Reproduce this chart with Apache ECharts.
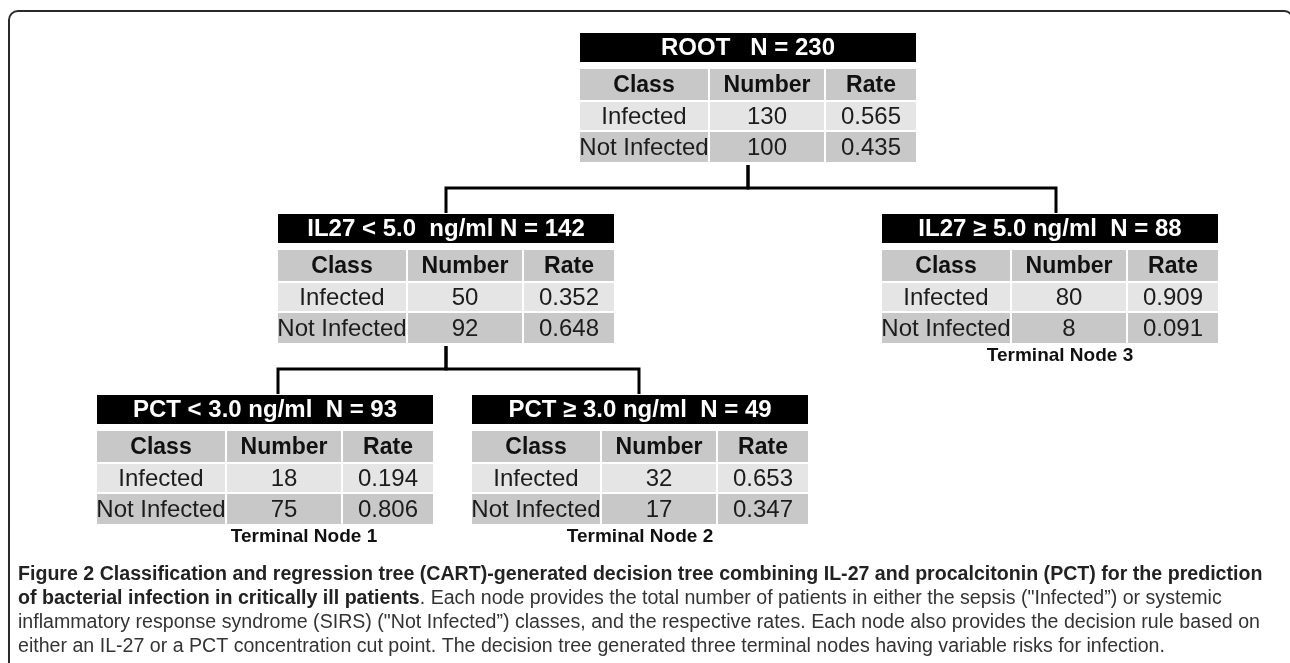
<!DOCTYPE html>
<html><head><meta charset="utf-8">
<script src="https://cdn.jsdelivr.net/npm/echarts@6/dist/echarts.min.js"></script>
<style>html,body{margin:0;padding:0;background:#fff}#c{width:1290px;height:663px}</style>
</head><body><div id="c"></div>
<script>
// ---------------- data ----------------
const nodeTitles = ['ROOT   N = 230', 'IL27 < 5.0  ng/ml N = 142', 'IL27 \u2265 5.0 ng/ml  N = 88', 'PCT < 3.0 ng/ml  N = 93', 'PCT \u2265 3.0 ng/ml  N = 49'];
const columnHeaders = ['Class', 'Number', 'Rate'];
const classNames = ['Infected', 'Not Infected'];
const infectedCounts = [130, 50, 80, 18, 32];
const notInfectedCounts = [100, 92, 8, 75, 17];
const infectedRates = [0.565, 0.352, 0.909, 0.194, 0.653];
const notInfectedRates = [0.435, 0.648, 0.091, 0.806, 0.347];
const parentOf = [-1, 0, 0, 1, 1];
const terminalLabels = ['', '', 'Terminal Node 3', 'Terminal Node 1', 'Terminal Node 2'];
const captionLines = [
  [['b', 'Figure 2 Classification and regression tree (CART)-generated decision tree combining IL-27 and procalcitonin (PCT) for the prediction']],
  [['b', 'of bacterial infection in critically ill patients'], ['r', '. Each node provides the total number of patients in either the sepsis ("Infected\u201d) or systemic']],
  [['r', 'inflammatory response syndrome (SIRS) ("Not Infected\u201d) classes, and the respective rates. Each node also provides the decision rule based on']],
  [['r', 'either an IL-27 or a PCT concentration cut point. The decision tree generated three terminal nodes having variable risks for infection.']]
];

// ---------------- layout ----------------
const nodeX = [580, 278, 882, 97, 472];
const nodeY = [33, 214, 214, 395, 395];
const stubX = [748, 446, 1056, 278, 639];
const labelX = [0, 0, 1060, 304, 640];
const TABLE_W = 336, TITLE_H = 29, TABLE_H = 129;
const colOff = [0, 130, 246], colW = [128, 114, 90];
const rowSpec = [{y: 36, h: 31, fill: '#c8c8c8'}, {y: 69, h: 28, fill: '#e5e5e5'}, {y: 99, h: 30, fill: '#c8c8c8'}];
const FONT = '"Liberation Sans", Arial, sans-serif';
const CAP_SIZE = 19.6;

function renderTable(params, api) {
  const i = api.value(2);
  const o = api.coord([api.value(0), api.value(1)]);
  const k = api.size([1, 1]);
  const sx = k[0], sy = k[1];
  const ch = [];
  ch.push({type: 'rect', shape: {x: o[0], y: o[1], width: TABLE_W * sx, height: TITLE_H * sy}, style: {fill: '#000'}});
  ch.push({type: 'text', style: {text: nodeTitles[i], x: o[0] + TABLE_W * sx / 2, y: o[1] + TITLE_H * sy / 2 + 1, align: 'center', verticalAlign: 'middle', fill: '#fff', font: 'bold 24px ' + FONT}});
  const rows = [
    columnHeaders,
    [classNames[0], String(infectedCounts[i]), infectedRates[i].toFixed(3)],
    [classNames[1], String(notInfectedCounts[i]), notInfectedRates[i].toFixed(3)]
  ];
  rows.forEach((cells, r) => {
    const rs = rowSpec[r];
    cells.forEach((t, c) => {
      const x = o[0] + colOff[c] * sx, y = o[1] + rs.y * sy, w = colW[c] * sx, h = rs.h * sy;
      ch.push({type: 'rect', shape: {x, y, width: w, height: h}, style: {fill: rs.fill}});
      ch.push({type: 'text', style: {text: t, x: x + w / 2, y: y + h / 2 + 1, align: 'center', verticalAlign: 'middle',
        fill: r === 0 ? '#111' : '#1c1c1c', font: (r === 0 ? 'bold 23px ' : '24px ') + FONT}});
    });
  });
  if (terminalLabels[i]) {
    const lp = api.coord([labelX[i], api.value(1) + TABLE_H + 13]);
    ch.push({type: 'text', style: {text: terminalLabels[i], x: lp[0], y: lp[1], align: 'center', verticalAlign: 'middle', fill: '#111', font: 'bold 19px ' + FONT}});
  }
  return {type: 'group', children: ch};
}

const edgeData = [];
parentOf.forEach((p, c) => {
  if (p < 0) return;
  const pb = nodeY[p] + TABLE_H;
  edgeData.push([stubX[p], pb + 3, stubX[c], nodeY[c] - 1, (pb + nodeY[c]) / 2]);
});

function renderEdge(params, api) {
  const a = api.coord([api.value(0), api.value(1)]);
  const m1 = api.coord([api.value(0), api.value(4)]);
  const m2 = api.coord([api.value(2), api.value(4)]);
  const b = api.coord([api.value(2), api.value(3)]);
  return {type: 'polyline', shape: {points: [a, m1, m2, b]}, style: {stroke: '#000', lineWidth: 3, fill: null, lineJoin: 'miter', lineCap: 'butt'}};
}

const caption = captionLines.map((parts, li) => ({
  type: 'text', left: 18, top: 565 + li * 23.7,
  style: {
    text: parts.map(p => '{' + p[0] + '|' + p[1] + '}').join(''),
    rich: {
      b: {font: 'bold ' + CAP_SIZE + 'px ' + FONT, fill: '#222'},
      r: {font: CAP_SIZE + 'px ' + FONT, fill: '#333'}
    }
  }
}));

const chart = echarts.init(document.getElementById('c'), null, {renderer: 'canvas'});
chart.setOption({
  animation: false,
  backgroundColor: '#fff',
  grid: {left: 0, right: 0, top: 0, bottom: 0},
  xAxis: {type: 'value', min: 0, max: 1290, show: false},
  yAxis: {type: 'value', min: 0, max: 663, inverse: true, show: false},
  graphic: [
    {type: 'rect', shape: {x: 9, y: 11, width: 1284, height: 700, r: 9}, style: {fill: 'none', stroke: '#2a2a2a', lineWidth: 2}, silent: true}
  ].concat(caption),
  series: [
    {type: 'custom', renderItem: renderEdge, data: edgeData, clip: false, silent: true},
    {type: 'custom', renderItem: renderTable, data: nodeTitles.map((t, i) => [nodeX[i], nodeY[i], i]), clip: false, silent: true}
  ]
});
</script></body></html>
